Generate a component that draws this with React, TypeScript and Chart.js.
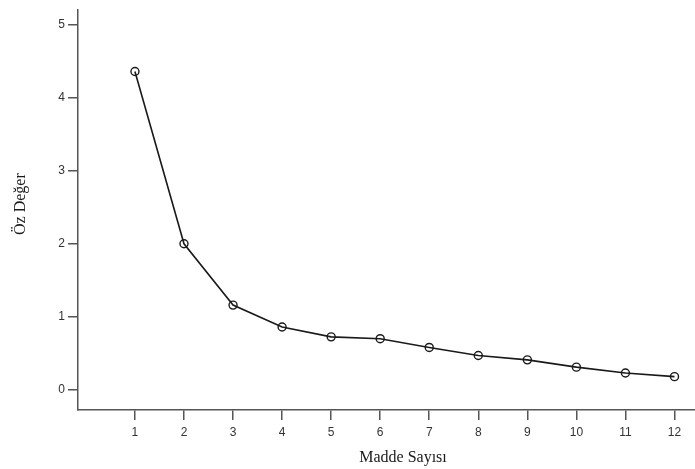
import React, { useEffect, useRef } from "react";
import { Chart, registerables } from "chart.js";

Chart.register(...registerables);

const items: number[] = [1, 2, 3, 4, 5, 6, 7, 8, 9, 10, 11, 12];
const eigenvalues: number[] = [4.36, 2.0, 1.16, 0.86, 0.725, 0.70, 0.58, 0.47, 0.41, 0.31, 0.23, 0.18];
const yTickValues: number[] = [0, 1, 2, 3, 4, 5];
const xTitle = "Madde Sayısı";
const yTitle = "Öz Değer";

const titlePlugin = {
  id: "axisTitles",
  afterDraw(chart: any) {
    const ctx = chart.ctx;
    const area = chart.chartArea;
    ctx.save();
    ctx.fillStyle = "#1a1a1a";
    ctx.font = '16px "Liberation Serif", "Times New Roman", serif';
    ctx.textAlign = "center";
    ctx.textBaseline = "middle";
    ctx.fillText(xTitle, 403, 458);
    ctx.translate(21, (area.top + area.bottom) / 2 - 6);
    ctx.rotate(-Math.PI / 2);
    ctx.fillText(yTitle, 0, 0);
    ctx.restore();
  },
};

export default function App() {
  const ref = useRef<HTMLCanvasElement | null>(null);

  useEffect(() => {
    if (!ref.current) return;
    const tickFont = { family: '"Liberation Sans", Arial, sans-serif', size: 12 };
    const chart = new Chart(ref.current, {
      type: "line",
      data: {
        datasets: [
          {
            data: items.map((x, i) => ({ x, y: eigenvalues[i] })),
            borderColor: "#1a1a1a",
            borderWidth: 1.6,
            pointRadius: 4,
            pointBorderWidth: 1.4,
            pointBorderColor: "#1a1a1a",
            pointBackgroundColor: "rgba(0,0,0,0)",
            tension: 0,
            fill: false,
          },
        ],
      },
      options: {
        animation: false,
        responsive: true,
        maintainAspectRatio: false,
        layout: { padding: { top: 8, left: 0, right: 0, bottom: 0 } },
        plugins: { legend: { display: false }, tooltip: { enabled: false } },
        scales: {
          x: {
            type: "linear",
            min: -0.161,
            max: 12.41,
            afterFit: (s: any) => {
              s.height = 59;
            },
            afterBuildTicks: (s: any) => {
              s.ticks = items.map((v) => ({ value: v }));
            },
            grid: {
              drawOnChartArea: false,
              drawTicks: true,
              tickLength: 10,
              color: "#555",
              lineWidth: 1.5,
            },
            border: { display: true, color: "#555", width: 1.5 },
            ticks: {
              autoSkip: false,
              maxRotation: 0,
              padding: 5,
              color: "#333",
              font: tickFont,
            },
          },
          y: {
            type: "linear",
            min: -0.277,
            max: 5.2,
            afterFit: (s: any) => {
              s.width = 78;
            },
            afterBuildTicks: (s: any) => {
              s.ticks = yTickValues.map((v) => ({ value: v }));
            },
            grid: {
              drawOnChartArea: false,
              drawTicks: true,
              tickLength: 10,
              color: "#555",
              lineWidth: 1.5,
            },
            border: { display: true, color: "#555", width: 1.5 },
            ticks: {
              padding: 3,
              color: "#333",
              font: tickFont,
            },
          },
        },
      },
      plugins: [titlePlugin],
    });
    return () => chart.destroy();
  }, []);

  return (
    <div style={{ position: "absolute", left: 0, top: 0, width: 695, height: 469, overflow: "hidden", background: "#fff" }}>
      <div style={{ position: "relative", width: 700, height: 469 }}>
        <canvas ref={ref} />
      </div>
    </div>
  );
}
